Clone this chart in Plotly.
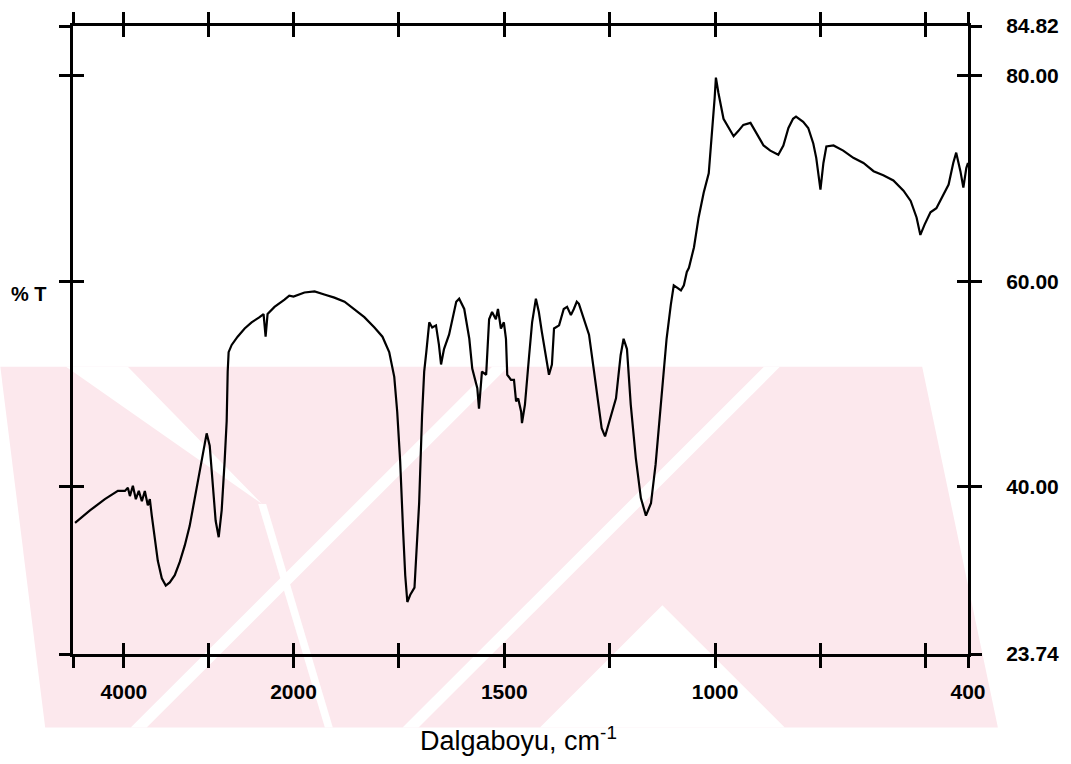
import plotly.graph_objects as go

# ---------------- data ----------------
wavenumber = [4576, 4400, 4224, 4071, 3988, 3953, 3929, 3894, 3859, 3824, 3788, 3753, 3718, 3694,
              3671, 3635, 3600, 3553, 3506, 3459, 3400, 3341, 3282, 3224, 3165, 3106, 3047, 3024,
              2988, 2953, 2918, 2882, 2847, 2812, 2788, 2776, 2765, 2729, 2659, 2576, 2494, 2400,
              2353, 2329, 2306, 2224, 2150, 2106, 2050, 2000,
              1974, 1950, 1927, 1903, 1879, 1856, 1832, 1808, 1789, 1773, 1761, 1754, 1747, 1740,
              1735, 1730, 1723, 1713, 1702, 1695, 1690, 1685, 1678, 1671, 1662, 1655, 1650, 1643,
              1631, 1614, 1607, 1595, 1583, 1576, 1564, 1560, 1553, 1543, 1536, 1529, 1520, 1515,
              1508, 1501, 1496, 1493, 1484, 1477, 1472, 1467, 1460, 1458, 1451, 1441, 1434, 1425,
              1418, 1411, 1401, 1394, 1387, 1382, 1370, 1359, 1351, 1342, 1335, 1328, 1323, 1311,
              1299, 1288, 1276, 1269, 1261, 1252, 1235, 1224, 1217, 1209, 1200, 1188, 1176, 1164,
              1152, 1141, 1129, 1122, 1115, 1105, 1098, 1091, 1081, 1074, 1067, 1062, 1050, 1039,
              1027, 1015, 1008, 1001, 998, 992, 980, 968, 956, 945, 933, 916, 902, 885, 869, 850,
              838, 826, 815, 808, 791, 779, 767, 760, 750, 743, 736, 719, 696, 672, 648, 624, 601,
              577, 553, 536, 522, 513, 503, 489, 475, 458, 446, 435, 428, 418, 411, 404, 400]
transmittance = [36.5, 37.7, 38.8, 39.6, 39.6, 39.9, 39.1, 40.1, 38.8, 39.6, 38.6, 39.6, 38.2, 38.8,
                 37.2, 34.8, 32.8, 31.1, 30.4, 30.7, 31.4, 32.7, 34.3, 36.2, 38.9, 41.5, 44.4, 45.2,
                 44.0, 40.6, 36.7, 35.1, 37.7, 42.5, 46.4, 51.2, 53.1, 53.8, 54.6, 55.4, 56.0, 56.5,
                 56.8, 54.6, 56.8, 57.5, 57.9, 58.2, 58.6, 58.5,
                 58.9, 59.0, 58.7, 58.4, 58.0, 57.3, 56.5, 55.5, 54.6, 53.1, 50.7, 47.3, 42.5, 35.7,
                 31.4, 28.8, 29.5, 30.2, 38.4, 47.0, 51.2, 53.1, 56.0, 55.5, 55.7, 53.8, 51.9, 53.4,
                 54.8, 58.0, 58.3, 57.3, 54.4, 51.5, 49.6, 47.6, 51.2, 50.9, 56.3, 57.0, 56.3, 57.3,
                 55.4, 56.0, 54.4, 50.9, 50.4, 50.4, 48.3, 48.6, 47.3, 46.2, 48.0, 52.8, 56.0, 58.3,
                 57.0, 55.1, 52.8, 50.9, 51.9, 55.4, 55.7, 57.3, 57.5, 56.7, 57.3, 58.0, 57.8, 56.3,
                 54.8, 51.5, 48.0, 45.7, 44.9, 46.1, 48.6, 52.8, 54.4, 53.4, 48.0, 42.8, 38.9, 37.2,
                 38.4, 42.2, 48.0, 51.5, 54.4, 57.7, 59.6, 59.4, 59.1, 59.6, 60.9, 61.3, 63.3, 66.2,
                 68.6, 70.5, 73.9, 77.8, 79.8, 78.3, 75.8, 74.9, 74.1, 74.6, 75.2, 75.4, 74.4, 73.2,
                 72.7, 72.3, 73.2, 74.9, 75.8, 76.0, 75.5, 74.9, 73.4, 72.0, 68.9, 71.5, 73.1, 73.2,
                 72.7, 72.0, 71.5, 70.7, 70.3, 69.8, 68.8, 67.8, 66.2, 64.5, 65.5, 66.7, 67.1, 68.4,
                 69.4, 71.5, 72.5, 70.7, 69.1, 71.0, 71.5]

x_ticks = [4600, 4000, 3000, 2000, 1750, 1500, 1250, 1000, 750, 500, 400]
x_label_values = [4000, 2000, 1500, 1000, 400]
x_label_texts = ["4000", "2000", "1500", "1000", "400"]
y_ticks = [23.74, 40.0, 60.0, 80.0, 84.82]
y_tick_labels = ["23.74", "40.00", "60.00", "80.00", "84.82"]
x_title = "Dalgaboyu, cm<sup>-1</sup>"
y_title = "% T"

# ---------------- IR-style two-segment wavenumber scale ----------------
W_MAX, W_BREAK, W_MIN = 4600, 2000, 400
HIGH_W = 221.0       # axis length given to 4600..2000
LOW_W = 676.0        # axis length given to 2000..400


def scale(w):
    if w >= W_BREAK:
        return (W_MAX - w) / (W_MAX - W_BREAK) * HIGH_W
    return HIGH_W + (W_BREAK - w) / (W_BREAK - W_MIN) * LOW_W


xs = [scale(w) for w in wavenumber]
xt_all = [scale(w) for w in x_ticks]
xt_lab = [scale(w) for w in x_label_values]
x_range = [scale(W_MAX), scale(W_MIN)]
y_range = [23.74, 84.82]

W, H = 1071, 764
L, R, T, B = 73, 99, 22, 110
PW, PH = W - L - R, H - T - B


def px(x):
    return (x - L) / PW


def py(y):
    return (H - B - y) / PH


# ---------------- watermark (light pink) ----------------
pink = "#fce8ed"
shapes = []


def poly(points, color):
    path = "M " + " L ".join(f"{px(a):.4f},{py(b):.4f}" for a, b in points) + " Z"
    shapes.append(dict(type="path", xref="paper", yref="paper", path=path,
                       fillcolor=color, line=dict(width=0), layer="below"))


poly([(0, 365), (926, 365), (1002, 728), (45, 728)], pink)
poly([(66, 365), (128, 365), (263, 503)], "white")
poly([(259, 503), (267, 503), (334, 728), (326, 728)], "white")
poly([(494, 365), (510, 365), (147, 728), (131, 728)], "white")
poly([(767, 365), (783, 365), (420, 728), (404, 728)], "white")
poly([(665, 605), (788, 728), (542, 728)], "white")

fig = go.Figure()
fig.add_trace(go.Scatter(x=xs, y=transmittance, mode="lines",
                         line=dict(color="black", width=2.2), hoverinfo="skip",
                         showlegend=False))
for xa, ya in (("x2", "y2"), ("x3", "y")):
    fig.add_trace(go.Scatter(x=[x_range[0]], y=[y_range[0]], xaxis=xa, yaxis=ya,
                             mode="markers", marker=dict(opacity=0), showlegend=False,
                             hoverinfo="skip"))

tickfont = dict(family="Liberation Sans, Arial, sans-serif", size=21, color="black",
                weight="bold")
axis_common = dict(showgrid=False, zeroline=False, showline=True, linecolor="black",
                   linewidth=3, tickcolor="black", tickwidth=2.5, ticklen=11,
                   mirror="ticks")

fig.update_layout(
    width=W, height=H,
    margin=dict(l=L, r=R, t=T, b=B, pad=0),
    paper_bgcolor="white", plot_bgcolor="rgba(0,0,0,0)",
    shapes=shapes,
    xaxis=dict(range=x_range, tickmode="array", tickvals=xt_lab, ticktext=x_label_texts,
               ticks="outside", tickfont=tickfont, ticklabelstandoff=6, **axis_common),
    xaxis3=dict(range=x_range, overlaying="x", anchor="y", side="bottom",
                tickmode="array", tickvals=xt_all, ticks="outside", showticklabels=False,
                **axis_common),
    xaxis2=dict(range=x_range, overlaying="x", anchor="y2", side="bottom",
                tickmode="array", tickvals=xt_all, ticks="inside", showticklabels=False,
                **axis_common),
    yaxis=dict(range=y_range, side="right", tickmode="array", tickvals=y_ticks,
               ticktext=y_tick_labels, ticks="outside", tickfont=tickfont,
               ticklabelstandoff=20, **axis_common),
    yaxis2=dict(range=y_range, overlaying="y", anchor="x2", side="right",
                tickmode="array", tickvals=[40, 60, 80], ticks="inside",
                showticklabels=False, **axis_common),
    annotations=[
        dict(text=x_title, xref="paper", yref="paper", x=px(520), y=py(740),
             xanchor="center", yanchor="middle", showarrow=False,
             font=dict(family="Liberation Sans, Arial, sans-serif", size=27, color="black")),
        dict(text=y_title, xref="paper", yref="paper", x=px(29), y=py(292),
             xanchor="center", yanchor="middle", showarrow=False,
             font=dict(family="Liberation Sans, Arial, sans-serif", size=20, color="black",
                       weight="bold")),
    ],
)

fig.write_html("out.html")
